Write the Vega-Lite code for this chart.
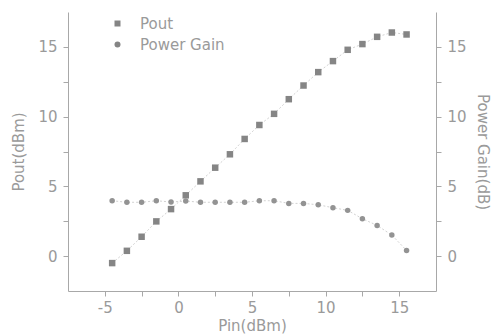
{
  "$schema": "https://vega.github.io/schema/vega-lite/v6.json",
  "autosize": "none",
  "width": 368,
  "height": 279,
  "padding": {"left": 68, "top": 12, "right": 64, "bottom": 44},
  "background": "white",
  "config": {
    "view": {"stroke": null},
    "font": "DejaVu Sans",
    "axis": {
      "domainColor": "#a8a8a8",
      "tickColor": "#a8a8a8",
      "tickSize": 5,
      "grid": false,
      "labelColor": "#9a9a9a",
      "labelFontSize": 15,
      "labelFont": "DejaVu Sans",
      "titleColor": "#9a9a9a",
      "titleFont": "DejaVu Sans",
      "titleFontSize": 15,
      "titleFontWeight": "normal"
    }
  },
  "data": {
    "values": [
      {"Pin": -4.5, "Pout": -0.5, "Gain": 3.97},
      {"Pin": -3.5, "Pout": 0.38, "Gain": 3.86},
      {"Pin": -2.5, "Pout": 1.39, "Gain": 3.86},
      {"Pin": -1.5, "Pout": 2.49, "Gain": 3.97},
      {"Pin": -0.5, "Pout": 3.37, "Gain": 3.88},
      {"Pin": 0.5, "Pout": 4.36, "Gain": 3.95},
      {"Pin": 1.5, "Pout": 5.36, "Gain": 3.86},
      {"Pin": 2.5, "Pout": 6.34, "Gain": 3.86},
      {"Pin": 3.5, "Pout": 7.3, "Gain": 3.86},
      {"Pin": 4.5, "Pout": 8.4, "Gain": 3.86},
      {"Pin": 5.5, "Pout": 9.4, "Gain": 3.97},
      {"Pin": 6.5, "Pout": 10.2, "Gain": 3.97},
      {"Pin": 7.5, "Pout": 11.25, "Gain": 3.78},
      {"Pin": 8.5, "Pout": 12.23, "Gain": 3.78},
      {"Pin": 9.5, "Pout": 13.19, "Gain": 3.68},
      {"Pin": 10.5, "Pout": 13.98, "Gain": 3.47},
      {"Pin": 11.5, "Pout": 14.79, "Gain": 3.28},
      {"Pin": 12.5, "Pout": 15.2, "Gain": 2.68},
      {"Pin": 13.5, "Pout": 15.72, "Gain": 2.2},
      {"Pin": 14.5, "Pout": 16.03, "Gain": 1.51},
      {"Pin": 15.5, "Pout": 15.89, "Gain": 0.41}
    ]
  },
  "encoding": {
    "x": {
      "field": "Pin",
      "type": "quantitative",
      "scale": {"domain": [-7.5, 17.5], "nice": false, "zero": false},
      "axis": {
        "title": "Pin(dBm)",
        "values": [-5, -2.5, 0, 2.5, 5, 7.5, 10, 12.5, 15],
        "labelExpr": "datum.value % 5 === 0 ? replace(datum.label, '\u2212', '-') : ''",
        "labelPadding": 4,
        "titlePadding": 3
      }
    }
  },
  "layer": [
    {
      "encoding": {
        "y": {
          "field": "Pout",
          "type": "quantitative",
          "scale": {"domain": [-2.5, 17.5], "nice": false, "zero": false},
          "axis": {
            "orient": "left",
            "title": "Pout(dBm)",
            "values": [0, 2.5, 5, 7.5, 10, 12.5, 15],
            "labelExpr": "datum.value % 5 === 0 ? datum.label : ''",
            "labelPadding": 6,
            "titlePadding": 11
          }
        }
      },
      "layer": [
        {"mark": {"type": "line", "color": "#d2d2d2", "strokeWidth": 1, "strokeDash": [2, 2]}},
        {
          "mark": {"type": "point", "filled": true, "color": "#858585", "size": 42, "opacity": 1},
          "encoding": {
            "shape": {
              "datum": "Pout",
              "type": "nominal",
              "scale": {"domain": ["Pout", "Power Gain"], "range": ["square", "circle"]},
              "legend": {
                "title": null,
                "orient": "none",
                "legendX": 42,
                "legendY": 4,
                "padding": 0,
                "labelFont": "DejaVu Sans",
                "labelFontSize": 15,
                "labelColor": "#9a9a9a",
                "labelOffset": 15,
                "rowPadding": 5,
                "symbolFillColor": "#8a8a8a",
                "symbolStrokeColor": "#8a8a8a",
                "symbolStrokeWidth": 0,
                "symbolSize": 36
              }
            }
          }
        }
      ]
    },
    {
      "encoding": {
        "y": {
          "field": "Gain",
          "type": "quantitative",
          "scale": {"domain": [-2.5, 17.5], "nice": false, "zero": false},
          "axis": {
            "orient": "right",
            "title": "Power Gain(dB)",
            "values": [0, 2.5, 5, 7.5, 10, 12.5, 15],
            "labelExpr": "datum.value % 5 === 0 ? datum.label : ''",
            "labelPadding": 6,
            "titlePadding": 8
          }
        }
      },
      "layer": [
        {"mark": {"type": "line", "color": "#d2d2d2", "strokeWidth": 1, "strokeDash": [2, 2]}},
        {
          "mark": {"type": "point", "filled": true, "color": "#939393", "size": 30, "opacity": 1},
          "encoding": {
            "shape": {"datum": "Power Gain", "type": "nominal"}
          }
        }
      ]
    }
  ],
  "resolve": {"scale": {"y": "independent"}}
}
